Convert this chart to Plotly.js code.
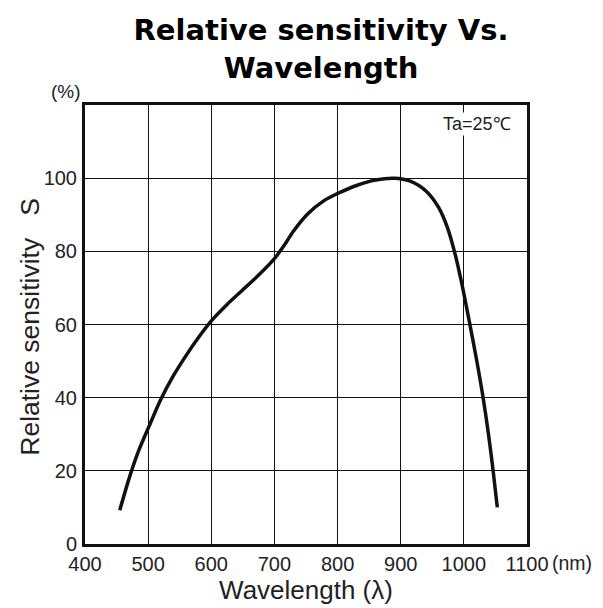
<!DOCTYPE html>
<html>
<head>
<meta charset="utf-8">
<script src="https://cdn.plot.ly/plotly-3.0.1.min.js"></script>
<style>html,body{margin:0;padding:0;background:#fff;}#chart{width:603px;height:608px;}</style>
</head>
<body>
<div id="chart"></div>
<script>
// Data
const wavelength = [455, 470, 485, 500, 520, 540, 560, 580, 600, 625, 650, 675, 700, 715, 730, 753, 778, 800, 830, 860, 890, 915, 940, 960, 974, 985, 997, 1009, 1020, 1030, 1039, 1046, 1053];
const sensitivity = [9.2, 18, 25.5, 31.6, 39.5, 46, 51.5, 56.5, 61, 65.5, 69.5, 73.5, 78, 81.5, 85.5, 90.3, 93.8, 95.8, 98, 99.5, 100, 99.2, 96.5, 92, 86.5, 80, 71, 60.5, 50.5, 40.5, 30, 20.5, 10];
const xTicks = [400, 500, 600, 700, 800, 900, 1000, 1100];
const xTickLabels = ["400", "500", "600", "700", "800", "900", "1000", "1100"];
const yTicks = [0, 20, 40, 60, 80, 100];
const yTickLabels = ["0", "20", "40", "60", "80", "100"];

const sans = "Liberation Sans, Arial, sans-serif";
const tickFont = {family: sans, size: 20, color: "#222"};

const trace = {
  x: wavelength, y: sensitivity, type: "scatter", mode: "lines",
  line: {color: "#111", width: 3.5, shape: "spline", smoothing: 0.8},
  hoverinfo: "skip"
};

const layout = {
  width: 603, height: 608,
  margin: {l: 85, r: 76, t: 105, b: 64, pad: 0},
  paper_bgcolor: "#fff", plot_bgcolor: "#fff",
  showlegend: false,
  title: {
    text: "<b>Relative sensitivity Vs.<br>Wavelength</b>",
    font: {family: "DejaVu Sans, Verdana, sans-serif", size: 29, color: "#000"},
    x: 322/603, xanchor: "center", xref: "paper",
    y: 1 - 40/608, yanchor: "middle", yref: "container"
  },
  xaxis: {
    range: [400, 1100], tickvals: xTicks, ticktext: xTickLabels,
    showgrid: true, gridcolor: "#111", gridwidth: 1,
    showline: true, linecolor: "#111", linewidth: 3, mirror: true,
    ticks: "", ticklen: 0, tickfont: tickFont, zeroline: false, fixedrange: true,
    ticklabelstandoff: 0,
    title: {text: "Wavelength (λ)", font: {family: sans, size: 26, color: "#222"}, standoff: 5}
  },
  yaxis: {
    range: [0, 120], tickvals: yTicks, ticktext: yTickLabels,
    showgrid: true, gridcolor: "#111", gridwidth: 1,
    showline: true, linecolor: "#111", linewidth: 3, mirror: true,
    ticks: "", ticklen: 0, tickfont: tickFont, zeroline: false, fixedrange: true,
    ticklabelstandoff: 1
  },
  annotations: [
    {text: "Relative sensitivity\u00A0\u00A0\u00A0S", textangle: -90, xref: "paper", yref: "paper",
     x: (30-85)/442, y: (544.5-327)/439.5, xanchor: "center", yanchor: "middle",
     showarrow: false, font: {family: sans, size: 26.5, color: "#222"}},
    {text: "(%)", xref: "paper", yref: "paper", x: (66-85)/442, y: 1 + (105-91)/439.5, xanchor: "center", yanchor: "middle",
     showarrow: false, font: {family: sans, size: 19, color: "#222"}},
    {text: "(nm)", xref: "x", yref: "paper", x: 1100, y: 0, xanchor: "left", yanchor: "top", xshift: 23, yshift: -6,
     showarrow: false, font: {family: sans, size: 19.5, color: "#222"}},
    {text: "Ta=25℃", xref: "paper", yref: "paper", x: (513-85)/442, y: 1 - (124-105)/439.5, xanchor: "right", yanchor: "middle",
     showarrow: false, bgcolor: "#fff", borderpad: 1,
     font: {family: sans, size: 18, color: "#222"}}
  ]
};

Plotly.newPlot("chart", [trace], layout, {staticPlot: true, displayModeBar: false});
</script>
</body>
</html>
